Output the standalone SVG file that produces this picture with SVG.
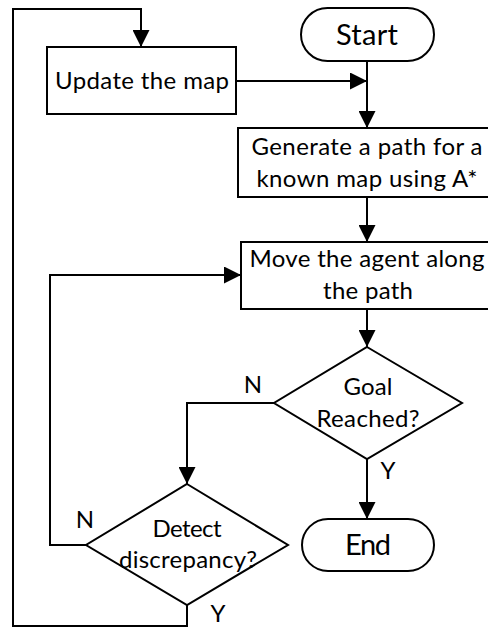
<svg xmlns="http://www.w3.org/2000/svg" width="488" height="628" viewBox="0 0 488 628">
<style>
.n{fill:#fff;stroke:#000;stroke-width:2}
.t{font-family:Lato,"Liberation Sans",sans-serif;font-size:24px;fill:#000;text-anchor:middle}
.big{font-size:29px}
.c{fill:none;stroke:#000;stroke-width:2}
</style>
<defs>
<marker id="a" markerUnits="userSpaceOnUse" markerWidth="17" markerHeight="17" refX="17" refY="8.5" orient="auto">
<path d="M0,0 L17,8.5 L0,17 Z" fill="#000"/>
</marker>
</defs>
<rect width="488" height="628" fill="#fff"/>
<g id="connectors">
<path class="c" d="M367,61 V128" marker-end="url(#a)"/>
<path class="c" d="M236,81 H367" marker-end="url(#a)"/>
<path class="c" d="M367,197 V242" marker-end="url(#a)"/>
<path class="c" d="M367,309 V347" marker-end="url(#a)"/>
<path class="c" d="M274,403 H187 V484" marker-end="url(#a)"/>
<path class="c" d="M367,459 V519" marker-end="url(#a)"/>
<path class="c" d="M86,545 H50 V275 H241" marker-end="url(#a)"/>
<path class="c" d="M187,605 V626 H13 V9 H141 V47" marker-end="url(#a)"/>
<text class="t" x="253" y="393">N</text>
<text class="t" x="388" y="479">Y</text>
<text class="t" x="85" y="528">N</text>
<text class="t" x="218" y="622">Y</text>
</g>
<g id="start">
<rect class="n" x="301" y="8" width="133" height="53" rx="26.5"/>
<text class="t big" x="367" y="45" textLength="62">Start</text>
</g>
<g id="update">
<rect class="n" x="47" y="47" width="189" height="67"/>
<text class="t" x="142" y="89" textLength="174">Update the map</text>
</g>
<g id="generate">
<rect class="n" x="238" y="128" width="256" height="69"/>
<text class="t" x="367" y="155" textLength="231">Generate a path for a</text>
<text class="t" x="367" y="187" textLength="221">known map using A*</text>
</g>
<g id="move">
<rect class="n" x="241" y="242" width="253" height="67"/>
<text class="t" x="367" y="267" textLength="235">Move the agent along</text>
<text class="t" x="368" y="299" textLength="90">the path</text>
</g>
<g id="goal">
<path class="n" d="M367,347 L462,403 L367,459 L274,403 Z"/>
<text class="t" x="368" y="395" textLength="49">Goal</text>
<text class="t" x="368" y="427" textLength="103">Reached?</text>
</g>
<g id="detect">
<path class="n" d="M187,484 L288,545 L187,605 L86,545 Z"/>
<text class="t" x="187" y="537" textLength="69">Detect</text>
<text class="t" x="188" y="568" textLength="138">discrepancy?</text>
</g>
<g id="end">
<rect class="n" x="302" y="519" width="132" height="52" rx="26"/>
<text class="t big" x="368" y="555" textLength="46">End</text>
</g>
</svg>
